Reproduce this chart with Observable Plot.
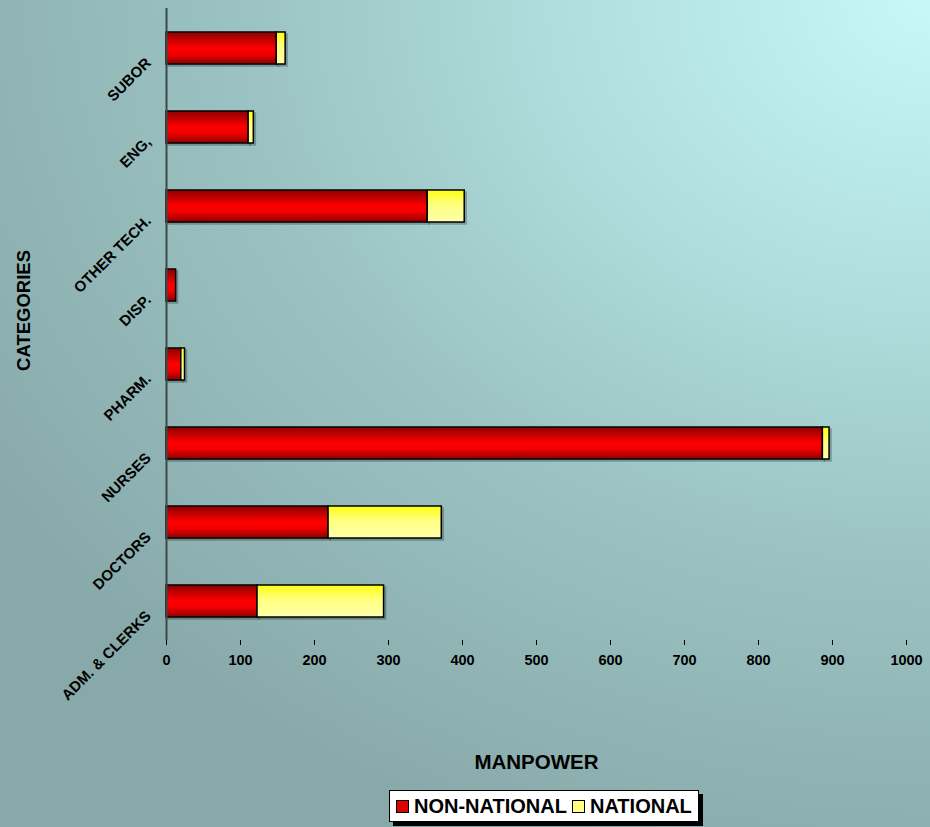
<!DOCTYPE html>
<html>
<head>
<meta charset="utf-8">
<script src="https://cdn.jsdelivr.net/npm/d3@7"></script>
<script src="https://cdn.jsdelivr.net/npm/@observablehq/plot@0.6"></script>
<style>
  html, body { margin: 0; padding: 0; }
  body {
    width: 930px; height: 827px; overflow: hidden; position: relative;
    background: radial-gradient(ellipse 120% 110% at 100% 0%, #c8f8f8 0%, #b2e0e0 30%, #9cc4c4 60%, #88a9a9 100%);
    font-family: "Liberation Sans", Arial, sans-serif;
  }
  #chart svg { display: block; background: transparent; }
  #legend {
    position: absolute; left: 389px; top: 790px; width: 310px; height: 32px;
    background: #fff; border: 1px solid #000; box-shadow: 4px 4px 0 #000;
    display: flex; align-items: center; gap: 5px; padding-left: 6px; box-sizing: border-box;
    font-weight: bold; font-size: 20px; color: #000; white-space: nowrap;
  }
  .sw { width: 13px; height: 13px; border: 1.5px solid #000; display: inline-block; box-sizing: border-box; }
</style>
</head>
<body>
<div id="chart"></div>
<div id="legend">
  <span class="sw" style="background:#e00000"></span><span>NON-NATIONAL</span>
  <span class="sw" style="background:#ffff80"></span><span>NATIONAL</span>
</div>
<script>
const categories = ["SUBOR", "ENG,", "OTHER TECH.", "DISP.", "PHARM.", "NURSES", "DOCTORS", "ADM. & CLERKS"];
const nonNational = [149, 111, 353, 13, 20, 887, 219, 123];
const national = [12, 7, 50, 0, 5, 9, 153, 171];
const seriesNames = ["NON-NATIONAL", "NATIONAL"];
const xTicks = [0, 100, 200, 300, 400, 500, 600, 700, 800, 900, 1000];

const rows = categories.map((c, i) => ({cat: c, non: nonNational[i], nat: national[i], total: nonNational[i] + national[i]}));

const plot = Plot.plot({
  width: 930,
  height: 780,
  marginLeft: 166,
  marginRight: 24,
  marginTop: 8,
  marginBottom: 140,
  style: {background: "transparent", fontFamily: "'Liberation Sans', Arial, sans-serif", color: "#000"},
  x: {domain: [0, 1000]},
  y: {domain: categories, paddingInner: 0.6, paddingOuter: 0.3},
  marks: [
    Plot.barX(rows, {y: "cat", x1: 0, x2: "non", fill: "url(#gradRed)", stroke: "#000", strokeWidth: 1.5, title: d => seriesNames[0]}),
    Plot.barX(rows.filter(d => d.nat > 0), {y: "cat", x1: "non", x2: "total", fill: "url(#gradYel)", stroke: "#000", strokeWidth: 1.5, title: d => seriesNames[1]}),
    Plot.ruleX([0], {stroke: "#3a4a4a", strokeWidth: 2}),
    Plot.ruleY([0], {frameAnchor: "bottom", stroke: "#222", strokeWidth: 1}),
    Plot.axisX({ticks: xTicks, tickFormat: d => String(d), tickSize: 5, tickPadding: 9, fontSize: 14.5, fontWeight: "bold", label: "MANPOWER", labelAnchor: "center", labelArrow: "none", labelOffset: 128}),
    Plot.axisY({tickSize: 0, tickRotate: -45, tickPadding: 18, dy: 12, fontSize: 15, fontWeight: "bold", label: "CATEGORIES", labelAnchor: "center", labelArrow: "none", labelOffset: 150})
  ]
});

const svg = d3.select(plot);
svg.selectAll("[aria-label='x-axis label'] text").attr("font-size", 20.5).attr("font-weight", "bold");
svg.selectAll("[aria-label='y-axis label'] text").attr("font-size", 18.5).attr("font-weight", "bold")
  .attr("transform", function() { return "translate(0,-14) " + (this.getAttribute("transform") || ""); });
const defs = svg.insert("defs", ":first-child");
const gr = defs.append("linearGradient").attr("id", "gradRed").attr("x1", 0).attr("y1", 0).attr("x2", 0).attr("y2", 1);
gr.append("stop").attr("offset", "0%").attr("stop-color", "#8c0000");
gr.append("stop").attr("offset", "50%").attr("stop-color", "#ff0000");
gr.append("stop").attr("offset", "70%").attr("stop-color", "#f00000");
gr.append("stop").attr("offset", "100%").attr("stop-color", "#8c0000");
const gy = defs.append("linearGradient").attr("id", "gradYel").attr("x1", 0).attr("y1", 0).attr("x2", 0).attr("y2", 1);
gy.append("stop").attr("offset", "0%").attr("stop-color", "#ffff10");
gy.append("stop").attr("offset", "45%").attr("stop-color", "#ffff80");
gy.append("stop").attr("offset", "100%").attr("stop-color", "#ffffa8");
svg.selectAll("[aria-label='bar']").style("filter", "drop-shadow(2px 2px 0 rgba(0,0,0,0.25))");

document.getElementById("chart").appendChild(plot);
</script>
</body>
</html>
